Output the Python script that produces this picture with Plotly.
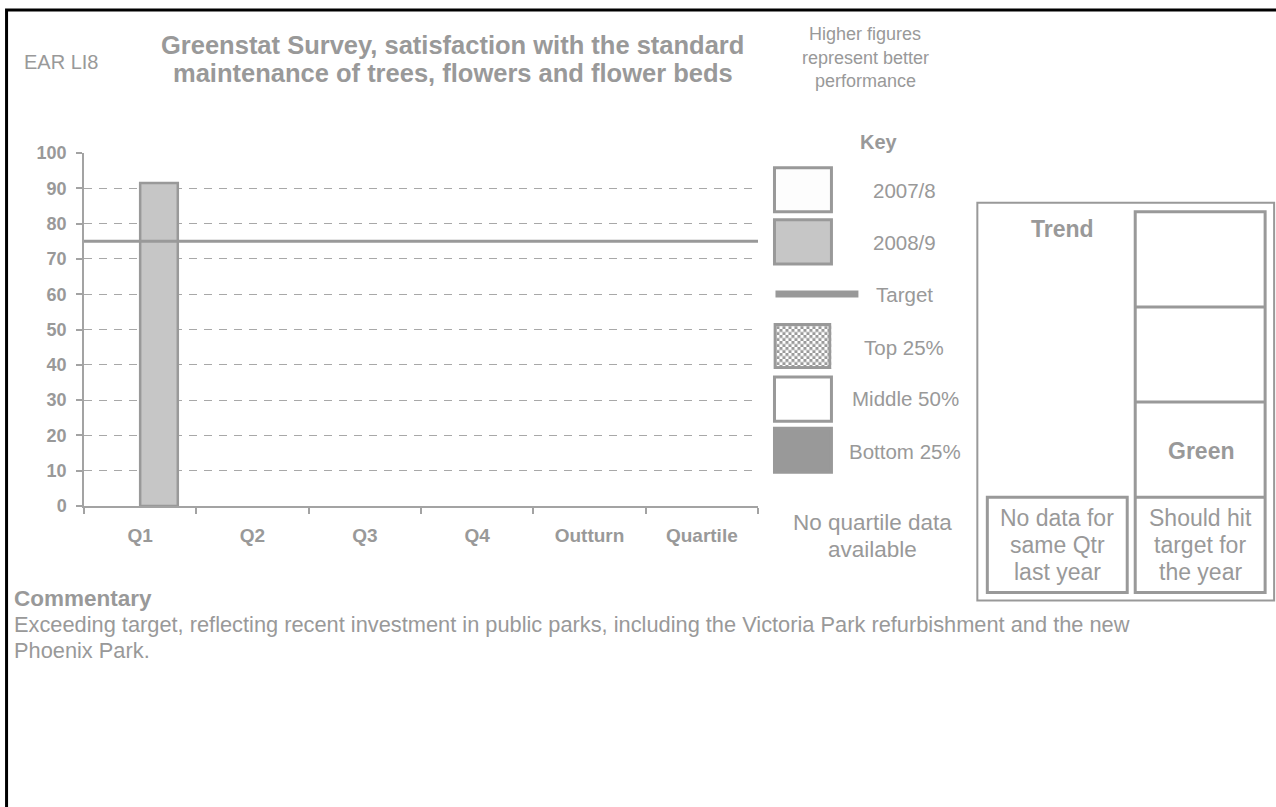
import base64
import plotly.graph_objects as go

# ---- data -------------------------------------------------------------
QUARTERS = ["Q1", "Q2", "Q3", "Q4", "Outturn", "Quartile"]
SERIES_PREV = "2007/8"
SERIES_CURR = "2008/9"
VALUES_PREV = [None, None, None, None, None, None]
VALUES_CURR = [91.5, None, None, None, None, None]
TARGET = 75
Y_TICKS = [0, 10, 20, 30, 40, 50, 60, 70, 80, 90, 100]

# ---- page geometry (pixels) --------------------------------------------
W, H = 1276, 807
PL, PR, PT, PB = 84, 758.5, 153.3, 505.7

GREY = "#999999"
AXIS = "#a3a3a3"
FONT = "Liberation Sans, Arial, Helvetica, sans-serif"


def fx(px):
    return (px - PL) / (PR - PL)


def fy(py):
    return (PB - py) / (PB - PT)


fig = go.Figure()

fig.add_trace(go.Bar(
    name=SERIES_PREV, x=QUARTERS, y=VALUES_PREV,
    offset=-0.335, width=0.335,
    marker=dict(color="#fdfdfd", line=dict(color=GREY, width=2.5)),
))
fig.add_trace(go.Bar(
    name=SERIES_CURR, x=QUARTERS, y=VALUES_CURR,
    offset=0.0, width=0.335,
    marker=dict(color="#c6c6c6", line=dict(color=GREY, width=2.5)),
))

shapes = []
annotations = []


def text(s, x, y, size, bold=False, anchor="center"):
    annotations.append(dict(
        text=s, x=fx(x), y=fy(y), xref="paper", yref="paper",
        xanchor=anchor, yanchor="middle", showarrow=False,
        font=dict(family=FONT, size=size, color=GREY,
                  weight="bold" if bold else "normal"),
    ))


def rect(x0, y0, x1, y1, line=GREY, width=3, fill="rgba(0,0,0,0)"):
    shapes.append(dict(
        type="rect", xref="paper", yref="paper",
        x0=fx(x0), x1=fx(x1), y0=fy(y0), y1=fy(y1),
        line=dict(color=line, width=width), fillcolor=fill, layer="above",
    ))


def hline(x0, x1, y, width, color=GREY):
    shapes.append(dict(
        type="line", xref="paper", yref="paper",
        x0=fx(x0), x1=fx(x1), y0=fy(y), y1=fy(y),
        line=dict(color=color, width=width), layer="above",
    ))


# target line across the chart
shapes.append(dict(
    type="line", xref="paper", yref="y", x0=0, x1=1, y0=TARGET, y1=TARGET,
    line=dict(color=GREY, width=3), layer="above",
))

# page frame
rect(6.5, 10.5, W + 20, H + 20, line="#000000", width=3)

# heading
text("EAR LI8", 22, 62, 20, anchor="left")
text("Greenstat Survey, satisfaction with the standard", 453, 45, 25.5, bold=True)
text("maintenance of trees, flowers and flower beds", 453, 73, 25.5, bold=True)
for s, yy in [("Higher figures", 35), ("represent better", 58), ("performance", 81)]:
    text(s, 866, yy, 18)

# key
text("Key", 880, 142, 20, bold=True)
rect(775, 168, 832, 212, fill="#fdfdfd")
text("2007/8", 905, 191, 20.5)
rect(775, 220, 832, 264, fill="#c6c6c6")
text("2008/9", 905, 243, 20.5)
hline(776, 859, 294, 7)
text("Target", 875, 295, 20.5, anchor="left")

checker = (
    '<svg xmlns="http://www.w3.org/2000/svg" width="58" height="46">'
    '<defs><pattern id="c" width="6" height="6" patternUnits="userSpaceOnUse">'
    '<rect width="6" height="6" fill="#ffffff"/>'
    '<rect width="3" height="3" fill="#9a9a9a"/>'
    '<rect x="3" y="3" width="3" height="3" fill="#9a9a9a"/></pattern></defs>'
    '<rect width="58" height="46" fill="url(#c)"/>'
    '<rect x="1.5" y="1.5" width="55" height="43" fill="none" stroke="#999999" stroke-width="3"/>'
    '</svg>'
)
fig.add_layout_image(dict(
    source="data:image/svg+xml;base64," + base64.b64encode(checker.encode()).decode(),
    xref="paper", yref="paper", x=fx(774), y=fy(323),
    sizex=fx(832) - fx(774), sizey=fy(323) - fy(369),
    xanchor="left", yanchor="top", sizing="stretch", layer="above",
))
text("Top 25%", 905, 347, 20.5)
rect(775, 377, 832, 421, fill="#ffffff")
text("Middle 50%", 906, 398, 20.5)
rect(775, 428, 832, 472, fill=GREY)
text("Bottom 25%", 906, 451, 20.5)
text("No quartile data", 873, 522, 22.5)
text("available", 873, 549, 22.5)

# trend / rating panel
rect(978, 203, 1275, 600, width=2)
rect(988, 497, 1128, 592)
rect(1136, 212, 1266, 592)
hline(1136, 1266, 307, 3)
hline(1136, 1266, 402, 3)
hline(1136, 1266, 497, 3)
text("Trend", 1063, 229, 23, bold=True)
text("Green", 1202, 451, 23, bold=True)
for s, yy in [("No data for", 518), ("same Qtr", 545), ("last year", 572)]:
    text(s, 1058, yy, 23)
for s, yy in [("Should hit", 518), ("target for", 545), ("the year", 572)]:
    text(s, 1201, yy, 23)

# commentary
text("Commentary", 12, 598, 22.5, bold=True, anchor="left")
text("Exceeding target, reflecting recent investment in public parks, including the "
     "Victoria Park refurbishment and the new", 12, 624, 21.8, anchor="left")
text("Phoenix Park.", 12, 650, 21.8, anchor="left")

fig.update_layout(
    template="none",
    width=W, height=H, autosize=False,
    margin=dict(l=PL, r=W - PR, t=PT, b=H - PB, pad=0),
    paper_bgcolor="#ffffff", plot_bgcolor="#ffffff",
    showlegend=False, barmode="group",
    shapes=shapes, annotations=annotations,
    font=dict(family=FONT, color=GREY),
)
fig.update_xaxes(
    type="category", categoryorder="array", categoryarray=QUARTERS,
    range=[-0.5, 5.5], automargin=False,
    showline=True, linecolor=AXIS, linewidth=1.5,
    ticks="outside", tickson="boundaries", ticklen=6, tickcolor=AXIS, tickwidth=1.5,
    showgrid=False, zeroline=False,
    tickfont=dict(family=FONT, size=19, color=GREY, weight="bold"),
    ticklabelstandoff=11,
)
fig.update_yaxes(
    range=[0, 100], tickvals=Y_TICKS, automargin=False,
    showline=True, linecolor=AXIS, linewidth=1.5,
    ticks="outside", ticklen=6, tickcolor=AXIS, tickwidth=1.5,
    showgrid=True, gridcolor="#a8a8a8", gridwidth=1, griddash="8px,7px",
    zeroline=False,
    tickfont=dict(family=FONT, size=18, color=GREY, weight="bold"),
    ticklabelstandoff=6,
)

fig.write_html("out.html")
